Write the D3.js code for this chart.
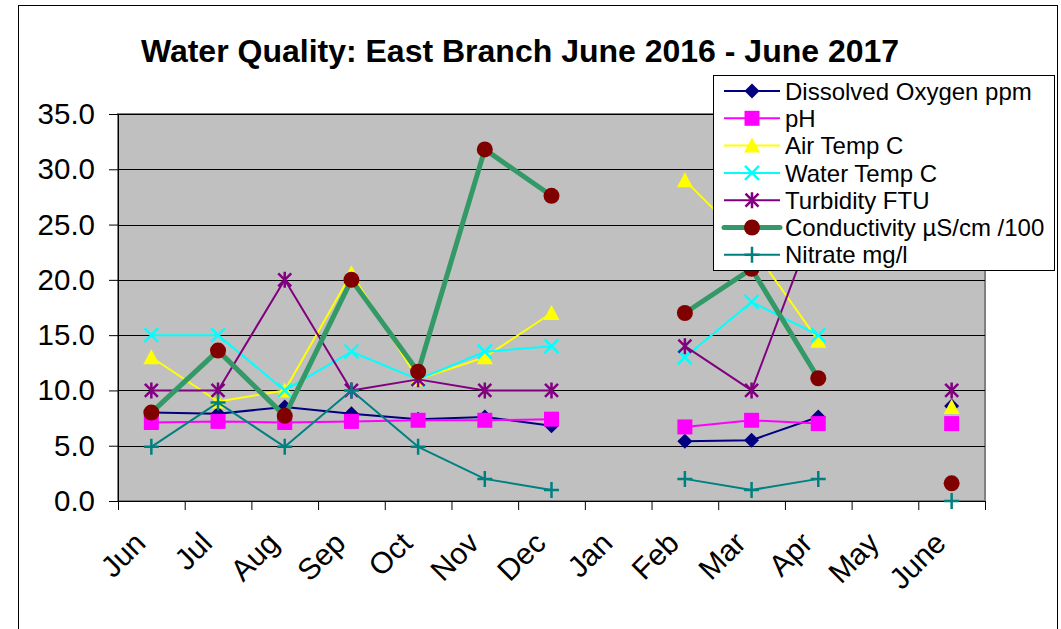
<!DOCTYPE html>
<html><head><meta charset="utf-8">
<script src="https://cdn.jsdelivr.net/npm/d3@7"></script>
<style>body{margin:0;background:#fff}svg{display:block;font-family:Arial,"Liberation Sans",sans-serif}</style>
</head><body><svg id="c" width="1061" height="629"></svg>
<script>
const months = ["Jun","Jul","Aug","Sep","Oct","Nov","Dec","Jan","Feb","Mar","Apr","May","June"];
const dissolvedOxygen = [8.0, 7.9, 8.5, 7.9, 7.4, 7.6, 6.8, null, 5.4, 5.5, 7.6, null, 8.6];
const pH = [7.1, 7.2, 7.1, 7.2, 7.3, 7.3, 7.4, null, 6.7, 7.3, 7.0, null, 7.0];
const airTemp = [13.0, 9.0, 10.0, 20.6, 11.0, 13.0, 17.0, null, 29.0, 23.0, 14.5, null, 8.5];
const waterTemp = [15.0, 15.0, 10.0, 13.5, 11.0, 13.5, 14.0, null, 13.0, 18.0, 15.0, null, null];
const turbidity = [10, 10, 20, 10, 11, 10, 10, null, 14, 10, 26, null, 10];
const conductivity = [8.0, 13.6, 7.7, 20.0, 11.7, 31.8, 27.6, null, 17.0, 21.0, 11.1, null, 1.6];
const nitrate = [4.9, 8.9, 4.9, 10.0, 4.9, 2.0, 1.0, null, 2.0, 1.0, 2.0, null, 0.0];
const yTicks = [0, 5, 10, 15, 20, 25, 30, 35];
const seriesNames = ["Dissolved Oxygen ppm","pH","Air Temp C","Water Temp C","Turbidity FTU","Conductivity \u00B5S/cm /100","Nitrate mg/l"];
const seriesValues = [dissolvedOxygen, pH, airTemp, waterTemp, turbidity, conductivity, nitrate];
const lineColors = ["#000080","#FF00FF","#FFFF00","#00FFFF","#800080","#339966","#008080"];
const markerColors = ["#000080","#FF00FF","#FFFF00","#00FFFF","#800080","#800000","#008080"];
const markerTypes = ["diamond","square","triangle","x","asterisk","circle","plus"];
const lineWidths = [2,2,2,2,2,5,2];

const svg = d3.select("#c");
const P = {l:118, r:985, t:114, b:501};

// outer chart border
svg.append("rect").attr("x",18.5).attr("y",5.5).attr("width",1039).attr("height",700)
  .attr("fill","#fff").attr("stroke","#000").attr("stroke-width",1);

const x = d3.scaleBand().domain(months).range([P.l, P.r]).paddingInner(0).paddingOuter(0);
const cx = m => x(m) + x.bandwidth()/2;
const y = d3.scaleLinear().domain([0,35]).range([P.b, P.t]);

// plot area
svg.append("rect").attr("x",P.l).attr("y",P.t).attr("width",P.r-P.l).attr("height",P.b-P.t)
  .attr("fill","#C0C0C0").attr("stroke","#808080").attr("stroke-width",2);

// gridlines
svg.append("g").selectAll("line").data(yTicks.filter(t=>t>0)).join("line")
  .attr("x1",P.l).attr("x2",P.r).attr("y1",d=>Math.round(y(d))+0.5).attr("y2",d=>Math.round(y(d))+0.5)
  .attr("stroke","#000").attr("stroke-width",1);

// y axis
const yAxis = d3.axisLeft(y).tickValues(yTicks).tickFormat(d3.format(".1f")).tickSize(9).tickPadding(14);
const gy = svg.append("g").attr("transform",`translate(${P.l},0)`).call(yAxis);
gy.select(".domain").attr("stroke","#000");
gy.selectAll(".tick line").attr("stroke","#000");
gy.selectAll("text").attr("font-size",29.5).attr("fill","#000").attr("font-family","Arial, Liberation Sans, sans-serif");

// x axis
const xb = d3.scaleLinear().domain([0, months.length]).range([P.l, P.r]);
const gx = svg.append("g").attr("transform",`translate(0,${P.b})`)
  .call(d3.axisBottom(xb).tickValues(d3.range(0, months.length+1)).tickSize(9).tickFormat(""));
gx.select(".domain").attr("stroke","#000");
gx.selectAll(".tick line").attr("stroke","#000");
svg.append("g").selectAll("text").data(months).join("text")
  .attr("transform", d => `translate(${cx(d)-4},${P.b+44}) rotate(-45)`)
  .attr("text-anchor","end").attr("font-size",30).attr("fill","#000")
  .text(d=>d);

// title
svg.append("text").attr("x",520).attr("y",62).attr("text-anchor","middle")
  .attr("font-size",32).attr("font-weight","bold").attr("fill","#000")
  .text("Water Quality: East Branch June 2016 - June 2017");

function drawMarker(g, type, color, px, py) {
  const s = g.append("g").attr("transform",`translate(${px},${py})`);
  switch(type){
    case "diamond": s.append("path").attr("d","M0,-7.5L7.5,0L0,7.5L-7.5,0Z").attr("fill",color); break;
    case "square": s.append("rect").attr("x",-7.5).attr("y",-7.5).attr("width",15).attr("height",15).attr("fill",color); break;
    case "triangle": s.append("path").attr("d","M0,-8L8,7L-8,7Z").attr("fill",color); break;
    case "x": s.append("path").attr("d","M-7,-7L7,7M-7,7L7,-7").attr("stroke",color).attr("stroke-width",2.5).attr("fill","none"); break;
    case "asterisk": s.append("path").attr("d","M-6.5,-6.5L6.5,6.5M-6.5,6.5L6.5,-6.5M0,-8L0,8").attr("stroke",color).attr("stroke-width",2.5).attr("fill","none"); break;
    case "circle": s.append("circle").attr("r",8).attr("fill",color); break;
    case "plus": s.append("path").attr("d","M-7.5,0L7.5,0M0,-8L0,8").attr("stroke",color).attr("stroke-width",2.5).attr("fill","none"); break;
  }
}

const line = d3.line().defined(d => d.v != null).x(d => cx(d.m)).y(d => y(d.v));
const gLines = svg.append("g");
seriesValues.forEach((vals, i) => {
  const data = months.map((m, j) => ({m, v: vals[j]}));
  const gs = gLines.append("g");
  gs.append("path").datum(data).attr("d", line).attr("fill","none")
    .attr("stroke", lineColors[i]).attr("stroke-width", lineWidths[i]).attr("stroke-linejoin","round");
  data.filter(d => d.v != null).forEach(d => drawMarker(gs, markerTypes[i], markerColors[i], cx(d.m), y(d.v)));
});

// legend
const L = {x:713, y:75, w:341, h:195};
const gl = svg.append("g");
gl.append("rect").attr("x",L.x+0.5).attr("y",L.y+0.5).attr("width",L.w).attr("height",L.h)
  .attr("fill","#fff").attr("stroke","#000").attr("stroke-width",1);
seriesNames.forEach((name, i) => {
  const ry = 91 + i*27.3;
  gl.append("line").attr("x1",724).attr("x2",780).attr("y1",ry).attr("y2",ry)
    .attr("stroke",lineColors[i]).attr("stroke-width",lineWidths[i]).attr("stroke-linecap", i===5?"round":"butt");
  drawMarker(gl, markerTypes[i], markerColors[i], 752, ry);
  gl.append("text").attr("x",785).attr("y",ry).attr("dy","0.36em").attr("font-size",24).attr("fill","#000").text(name);
});
</script></body></html>
